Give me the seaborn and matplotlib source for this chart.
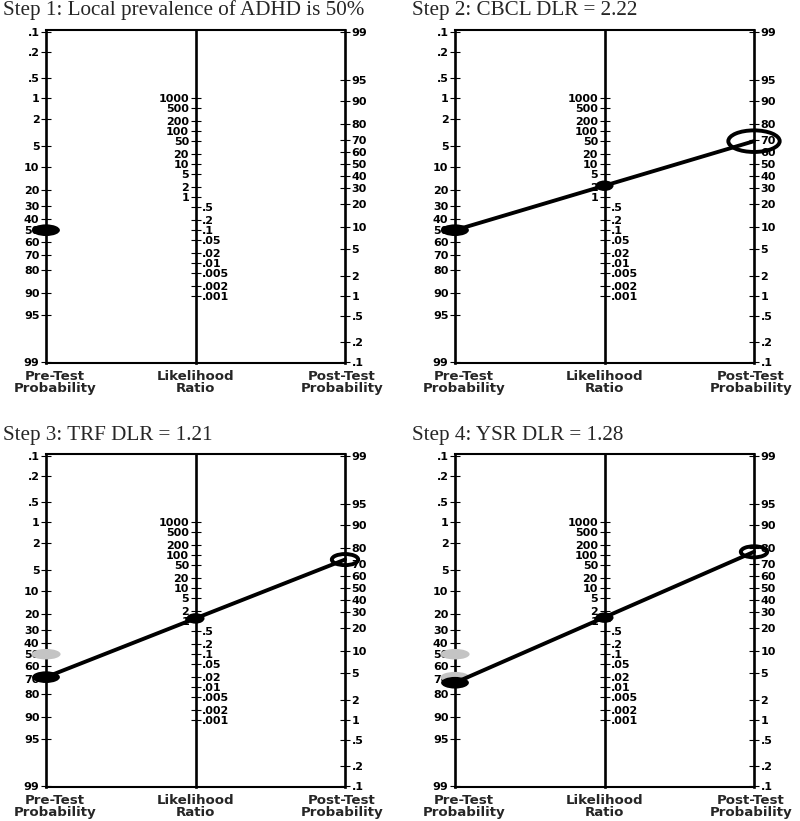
import matplotlib
matplotlib.use('Agg')
import matplotlib.pyplot as plt
import seaborn as sns
import numpy as np
from matplotlib.path import Path
from matplotlib.transforms import Affine2D

# --- values (Fagan nomograms, 4 steps) ---
titles = ["Step 1: Local prevalence of ADHD is 50%",
          "Step 2: CBCL DLR = 2.22",
          "Step 3: TRF DLR = 1.21",
          "Step 4: YSR DLR = 1.28"]
pre_test = [50, 50, 69, 73]            # pre-test probability (%) of each step
dlr = [None, 2.22, 1.21, 1.28]         # diagnostic likelihood ratio used
post_test = [None, 69, 73, 78]         # resulting post-test probability (%)
earlier_pre = [[], [], [50], [50, 69]]  # previous estimates, drawn in grey

prob_ticks = [0.1, 0.2, 0.5, 1, 2, 5, 10, 20, 30, 40, 50, 60, 70, 80, 90, 95, 99]
prob_labels = [".1", ".2", ".5", "1", "2", "5", "10", "20", "30", "40", "50",
               "60", "70", "80", "90", "95", "99"]
lr_hi = [1000, 500, 200, 100, 50, 20, 10, 5, 2, 1]
lr_hi_labels = ["1000", "500", "200", "100", "50", "20", "10", "5", "2", "1"]
lr_lo = [0.5, 0.2, 0.1, 0.05, 0.02, 0.01, 0.005, 0.002, 0.001]
lr_lo_labels = [".5", ".2", ".1", ".05", ".02", ".01", ".005", ".002", ".001"]


# nomogram scales (log10 odds); left axis runs .1 -> 99 downwards,
# right axis 99 -> .1 downwards, LR axis at half the scale in the middle
def logit(p):
    p = np.asarray(p, dtype=float) / 100.0
    return np.log10(p / (1 - p))


def pre_y(p):
    return -logit(p)


def post_y(p):
    return logit(p) + 1


def lr_y(lr):
    return 0.5 + 0.5 * np.log10(np.asarray(lr, dtype=float))


def ellipse(ratio):
    return Path.unit_circle().transformed(Affine2D().scale(1, ratio))


sns.set_theme(style="white")
plt.rcParams['font.family'] = ['DejaVu Sans']

W, H = 800, 821
fig = plt.figure(figsize=(W / 100, H / 100), dpi=100)

col_x = [46, 455]
row_y = [30, 454]
aw, ah = 299, 333
ylim = (-2.01, 3.03)
tick_font = 8
title_pos = [(3, 15), (412, 15), (3, 440), (412, 440)]

# open-circle size (pt) at the post-test end of each step
post_size = [None, 37, 19, 19]


def style_ticks(a, side):
    a.tick_params(axis='y', which='both', direction='inout', length=7, width=0.8,
                  pad=1.2, labelsize=tick_font, colors='black',
                  left=(side == 'left'), right=(side == 'right'),
                  labelleft=(side == 'left'), labelright=(side == 'right'))
    for lab in a.get_yticklabels():
        lab.set_fontweight('bold')


for i in range(4):
    c, r = i % 2, i // 2
    rect = [col_x[c] / W, 1 - (row_y[r] + ah) / H, aw / W, ah / H]

    ax = fig.add_axes(rect)
    ax.set_xlim(0, 1)
    ax.set_ylim(*ylim)
    ax.set_xticks([])
    for name, sp in ax.spines.items():
        sp.set_visible(True)
        sp.set_color('black')
        sp.set_linewidth(1.9 if name in ('left', 'right') else 1.5)
    ax.set_yticks(pre_y(prob_ticks), prob_labels)
    style_ticks(ax, 'left')

    rax = ax.twinx()
    rax.set_ylim(*ylim)
    for sp in rax.spines.values():
        sp.set_visible(False)
    rax.set_yticks(post_y(prob_ticks), prob_labels)
    style_ticks(rax, 'right')

    # likelihood ratio axis in the middle
    m1 = ax.inset_axes([0.5, 0, 1e-5, 1])
    m2 = ax.inset_axes([0.5, 0, 1e-5, 1])
    for m in (m1, m2):
        m.set_ylim(*ylim)
        m.set_xticks([])
        m.patch.set_visible(False)
        for sp in m.spines.values():
            sp.set_visible(False)
    m1.spines['left'].set_visible(True)
    m1.spines['left'].set_linewidth(1.9)
    m1.spines['left'].set_color('black')
    m1.set_yticks(lr_y(lr_hi), lr_hi_labels)
    style_ticks(m1, 'left')
    m2.yaxis.tick_right()
    m2.set_yticks(lr_y(lr_lo), lr_lo_labels)
    style_ticks(m2, 'right')

    # axis captions
    cap = dict(ha='center', va='top', fontsize=9.6, fontweight='bold',
               linespacing=0.9, transform=ax.transAxes)
    ax.text(0.03, -0.02, "Pre-Test\nProbability", **cap)
    ax.text(0.5, -0.02, "Likelihood\nRatio", **cap)
    ax.text(0.99, -0.02, "Post-Test\nProbability", **cap)

    # overlay for the nomogram marks so they sit above axes lines/labels
    ov = fig.add_axes(rect)
    ov.set_xlim(0, 1)
    ov.set_ylim(*ylim)
    ov.axis('off')

    if earlier_pre[i]:
        sns.scatterplot(x=[0] * len(earlier_pre[i]), y=pre_y(earlier_pre[i]),
                        marker=ellipse(0.36), s=21 ** 2, color='#c4c4c4',
                        edgecolor='none', ax=ov, clip_on=False, zorder=3)

    if dlr[i] is not None:
        sns.lineplot(x=[0, 1], y=[pre_y(pre_test[i]), post_y(post_test[i])],
                     color='black', linewidth=2.8, ax=ov, clip_on=False,
                     sort=False, zorder=4)
        sns.scatterplot(x=[0.5], y=lr_y([dlr[i]]), marker=ellipse(0.58),
                        s=13 ** 2, color='black', edgecolor='none', ax=ov,
                        clip_on=False, zorder=5)
        sns.scatterplot(x=[1], y=post_y([post_test[i]]), marker=ellipse(0.42),
                        s=post_size[i] ** 2, facecolor='none', edgecolor='black',
                        linewidth=2.8, ax=ov, clip_on=False, zorder=5)

    sns.scatterplot(x=[0], y=pre_y([pre_test[i]]), marker=ellipse(0.42),
                    s=20 ** 2, color='black', edgecolor='none', ax=ov,
                    clip_on=False, zorder=5)

    tx, ty = title_pos[i]
    fig.text(tx / W, 1 - ty / H, titles[i], ha='left', va='baseline',
             fontsize=15.2, family=['Liberation Serif', 'DejaVu Serif'])

fig.savefig('out.png', dpi=100, facecolor='white')
